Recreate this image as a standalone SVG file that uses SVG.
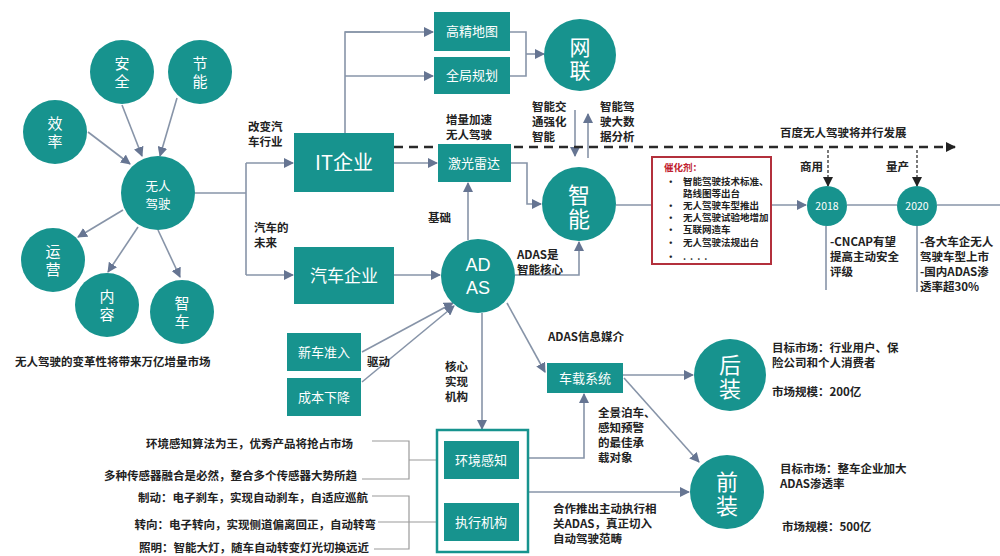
<svg xmlns="http://www.w3.org/2000/svg" width="1000" height="556" viewBox="0 0 1000 556">
<defs>
<marker id="a" viewBox="0 0 10 10" refX="9" refY="5" markerWidth="10" markerHeight="10" markerUnits="userSpaceOnUse" orient="auto"><path d="M0,0 L10,5 L0,10 z" fill="#667592"/></marker>
<marker id="k" viewBox="0 0 10 10" refX="9" refY="5" markerWidth="10" markerHeight="10" markerUnits="userSpaceOnUse" orient="auto"><path d="M0,0 L10,5 L0,10 z" fill="#222"/></marker>
<style>
.c{fill:#17938e}
.r{fill:#17938e}
.w{fill:#fff;font-family:"Noto Sans CJK SC","Noto Sans",sans-serif;text-anchor:middle}
.v{fill:#fff;font-family:"Noto Sans CJK SC",sans-serif;text-anchor:middle;writing-mode:vertical-rl}
.lat{fill:#fff;font-family:"Liberation Sans",sans-serif;text-anchor:middle}
.b{fill:#222;font-family:"Noto Sans CJK SC",sans-serif;font-weight:bold;font-size:11.5px}
.ln{stroke:#8794a8;stroke-width:1.6;fill:none}
.ar{stroke:#8794a8;stroke-width:1.6;fill:none;marker-end:url(#a)}
.gl{stroke:#9a9a9a;stroke-width:1.2;fill:none}
.rb{fill:#222;font-family:"Noto Sans CJK SC",sans-serif;font-weight:bold;font-size:9.5px}
</style>
</defs>
<rect width="1000" height="556" fill="#fff"/>

<g id="connectors">
<line class="ar" x1="88" y1="132" x2="130" y2="164"/>
<line class="ar" x1="122" y1="105" x2="142" y2="156"/>
<line class="ar" x1="177" y1="98" x2="160" y2="156"/>
<line class="ar" x1="123" y1="210" x2="78" y2="237"/>
<line class="ar" x1="138" y1="227" x2="108" y2="272"/>
<line class="ar" x1="158" y1="230" x2="180" y2="277"/>
<polyline class="ln" points="195,193 246,193"/>
<polyline class="ln" points="246,163 246,275"/>
<line class="ar" x1="246" y1="163" x2="293" y2="163"/>
<line class="ar" x1="246" y1="275" x2="293" y2="275"/>
<polyline class="ln" points="345,133 345,32 380,32"/>
<line class="ar" x1="345" y1="32" x2="433" y2="32"/>
<line class="ar" x1="345" y1="76" x2="433" y2="76"/>
<polyline class="ln" points="510,32 526,32 526,76 510,76"/>
<line class="ar" x1="526" y1="54" x2="544" y2="54"/>
<line class="ar" x1="394" y1="163" x2="437" y2="163"/>
<polyline class="ar" points="511,163 527,163 527,204 541,204"/>
<line class="ar" x1="575" y1="110" x2="575" y2="156"/>
<line class="ar" x1="588" y1="158" x2="588" y2="114"/>
<line x1="394" y1="147" x2="955" y2="147" stroke="#2a2a2a" stroke-width="2.3" stroke-dasharray="9 6" marker-end="url(#k)"/>
<line x1="828" y1="150" x2="828" y2="186" stroke="#222" stroke-width="1.2" stroke-dasharray="3 2" marker-end="url(#k)"/>
<line x1="917" y1="150" x2="917" y2="186" stroke="#222" stroke-width="1.2" stroke-dasharray="3 2" marker-end="url(#k)"/>
<line class="ar" x1="394" y1="275" x2="440" y2="275"/>
<line class="ar" x1="468" y1="240" x2="468" y2="183"/>
<polyline class="ar" points="515,275 579,275 579,242"/>
<line class="ar" x1="362" y1="352" x2="453" y2="303"/>
<line class="ar" x1="362" y1="382" x2="454" y2="306"/>
<line class="ar" x1="507" y1="303" x2="545" y2="372"/>
<line class="ar" x1="482" y1="313" x2="482" y2="429"/>
<polyline class="ar" points="528,458 584,458 584,394"/>
<line class="ar" x1="528" y1="492" x2="689" y2="492"/>
<line class="ar" x1="623" y1="375" x2="693" y2="375"/>
<line class="ar" x1="624" y1="378" x2="699" y2="462"/>
<line class="ln" x1="616" y1="205" x2="652" y2="205"/>
<line class="ar" x1="771" y1="205" x2="806" y2="205"/>
<line class="ln" x1="847" y1="205" x2="897" y2="205"/>
<line class="ln" x1="937" y1="205" x2="1000" y2="205"/>
<line class="ln" x1="826" y1="226" x2="826" y2="290"/>
<line class="ln" x1="917" y1="226" x2="917" y2="292"/>
<polyline class="gl" points="372,441 409,441 409,479 362,479"/>
<line class="gl" x1="409" y1="460" x2="444" y2="460"/>
<polyline class="gl" points="372,496 409,496 409,549 374,549"/>
<line class="gl" x1="378" y1="522" x2="444" y2="522"/>
</g>

<g id="n-anquan"><circle class="c" cx="122" cy="72" r="32"/><text class="v" x="122" y="73.5" font-size="15" letter-spacing="3">安全</text></g>
<g id="n-jieneng"><circle class="c" cx="200" cy="72" r="32"/><text class="v" x="200" y="73.5" font-size="15" letter-spacing="3">节能</text></g>
<g id="n-xiaolv"><circle class="c" cx="55" cy="132" r="32"/><text class="v" x="55" y="133.5" font-size="15" letter-spacing="3">效率</text></g>
<g id="n-wurenjiashi"><circle class="c" cx="158" cy="193" r="37"/><text class="w" x="158" y="190.5" font-size="12.5">无人</text><text class="w" x="158" y="209" font-size="12.5">驾驶</text></g>
<g id="n-yunying"><circle class="c" cx="53" cy="260" r="32"/><text class="v" x="53" y="261.5" font-size="15" letter-spacing="3">运营</text></g>
<g id="n-neirong"><circle class="c" cx="107" cy="305" r="32"/><text class="v" x="107" y="306.5" font-size="15" letter-spacing="3">内容</text></g>
<g id="n-zhiche"><circle class="c" cx="182" cy="312" r="32"/><text class="v" x="182" y="313.5" font-size="15" letter-spacing="3">智车</text></g>
<g id="caption"><text class="b" x="15" y="366">无人驾驶的变革性将带来万亿增量市场</text></g>

<g id="n-it"><rect class="r" x="294" y="133" width="100" height="59"/><text class="w" x="344" y="170" font-size="20">IT企业</text></g>
<g id="n-qiche"><rect class="r" x="294" y="247" width="100" height="57"/><text class="w" x="344" y="282" font-size="17">汽车企业</text></g>
<g id="n-gaojing"><rect class="r" x="434" y="12" width="76" height="39"/><text class="w" x="472" y="36" font-size="13">高精地图</text></g>
<g id="n-quanju"><rect class="r" x="434" y="57" width="76" height="37"/><text class="w" x="472" y="80" font-size="13">全局规划</text></g>
<g id="n-jiguang"><rect class="r" x="438" y="144" width="73" height="38"/><text class="w" x="474" y="168" font-size="13">激光雷达</text></g>
<g id="n-wanglian"><circle class="c" cx="580" cy="55" r="36"/><text class="v" x="580" y="60" font-size="21" letter-spacing="2">网联</text></g>
<g id="n-zhineng"><circle class="c" cx="579" cy="204" r="37"/><text class="v" x="579" y="208" font-size="22" letter-spacing="2">智能</text></g>
<g id="n-adas"><circle class="c" cx="478" cy="276" r="37"/><text class="lat" x="478" y="271" font-size="18">AD</text><text class="lat" x="478" y="294" font-size="18">AS</text></g>
<g id="n-xinche"><rect class="r" x="287" y="333" width="74" height="38"/><text class="w" x="324" y="357" font-size="13">新车准入</text></g>
<g id="n-chengben"><rect class="r" x="287" y="378" width="74" height="38"/><text class="w" x="324" y="402" font-size="13">成本下降</text></g>
<g id="n-chezai"><rect class="r" x="547" y="363" width="76" height="30"/><text class="w" x="585" y="383" font-size="13">车载系统</text></g>
<g id="n-container"><rect x="437" y="430" width="91" height="122" fill="#fff" stroke="#17938e" stroke-width="2.5"/></g>
<g id="n-huanjing"><rect class="r" x="444" y="441" width="75" height="38"/><text class="w" x="481" y="465" font-size="13">环境感知</text></g>
<g id="n-zhixing"><rect class="r" x="444" y="503" width="75" height="38"/><text class="w" x="481" y="527" font-size="13">执行机构</text></g>
<g id="n-houzhuang"><circle class="c" cx="730" cy="375" r="36"/><text class="v" x="730" y="378" font-size="22" letter-spacing="2">后装</text></g>
<g id="n-qianzhuang"><circle class="c" cx="727" cy="492" r="37"/><text class="v" x="727" y="495" font-size="22" letter-spacing="2">前装</text></g>
<g id="n-2018"><circle class="c" cx="827" cy="206" r="20"/><text class="w" x="827" y="210" font-size="10.5">2018</text></g>
<g id="n-2020"><circle class="c" cx="917" cy="206" r="20"/><text class="w" x="917" y="210" font-size="10.5">2020</text></g>

<g id="n-catalyst">
<rect x="652" y="157" width="119" height="107" fill="#fff" stroke="#b3303c" stroke-width="2"/>
<text x="664" y="171" font-family="Noto Sans CJK SC,sans-serif" font-weight="bold" font-size="9.5" fill="#c0202e">催化剂：</text>
<text class="rb" x="666" y="185">•</text><text class="rb" x="683" y="185">智能驾驶技术标准、</text>
<text class="rb" x="683" y="197">路线图等出台</text>
<text class="rb" x="666" y="209">•</text><text class="rb" x="683" y="209">无人驾驶车型推出</text>
<text class="rb" x="666" y="221">•</text><text class="rb" x="683" y="221">无人驾驶试验地增加</text>
<text class="rb" x="666" y="233">•</text><text class="rb" x="683" y="233">互联网造车</text>
<text class="rb" x="666" y="246">•</text><text class="rb" x="683" y="246">无人驾驶法规出台</text>
<text class="rb" x="666" y="260">•</text><text class="rb" x="683" y="260" letter-spacing="4">....</text>
</g>

<g id="labels">
<text class="b"><tspan x="248" y="131">改变汽</tspan><tspan x="248" y="146">车行业</tspan></text>
<text class="b"><tspan x="254" y="232">汽车的</tspan><tspan x="254" y="247">未来</tspan></text>
<text class="b"><tspan x="446" y="124">增量加速</tspan><tspan x="446" y="139">无人驾驶</tspan></text>
<text class="b"><tspan x="532" y="111">智能交</tspan><tspan x="532" y="126">通强化</tspan><tspan x="532" y="141">智能</tspan></text>
<text class="b"><tspan x="600" y="111">智能驾</tspan><tspan x="600" y="126">驶大数</tspan><tspan x="600" y="141">据分析</tspan></text>
<text class="b" x="780" y="137">百度无人驾驶将并行发展</text>
<text class="b" x="800" y="171">商用</text>
<text class="b" x="886" y="171">量产</text>
<text class="b" x="428" y="222">基础</text>
<text class="b"><tspan x="517" y="259">ADAS是</tspan><tspan x="517" y="274">智能核心</tspan></text>
<text class="b" x="367" y="366">驱动</text>
<text class="b"><tspan x="445" y="371">核心</tspan><tspan x="445" y="386">实现</tspan><tspan x="445" y="401">机构</tspan></text>
<text class="b" x="548" y="341">ADAS信息媒介</text>
<text class="b"><tspan x="598" y="417">全景泊车、</tspan><tspan x="598" y="432">感知预警</tspan><tspan x="598" y="447">的最佳承</tspan><tspan x="598" y="462">载对象</tspan></text>
<text class="b"><tspan x="553" y="513">合作推出主动执行相</tspan><tspan x="553" y="528">关ADAS，真正切入</tspan><tspan x="553" y="543">自动驾驶范畴</tspan></text>
<text class="b"><tspan x="772" y="352">目标市场：行业用户、保</tspan><tspan x="772" y="367">险公司和个人消费者</tspan></text>
<text class="b" x="772" y="396">市场规模：200亿</text>
<text class="b"><tspan x="780" y="473">目标市场：整车企业加大</tspan><tspan x="780" y="488">ADAS渗透率</tspan></text>
<text class="b" x="782" y="531">市场规模：500亿</text>
<text class="b"><tspan x="830" y="246">-CNCAP有望</tspan><tspan x="830" y="261">提高主动安全</tspan><tspan x="830" y="276">评级</tspan></text>
<text class="b"><tspan x="920" y="246">-各大车企无人</tspan><tspan x="920" y="261">驾驶车型上市</tspan><tspan x="920" y="276">-国内ADAS渗</tspan><tspan x="920" y="291">透率超30%</tspan></text>
<text class="b" text-anchor="end" x="353" y="448">环境感知算法为王，优秀产品将抢占市场</text>
<text class="b" text-anchor="end" x="357" y="480">多种传感器融合是必然，整合多个传感器大势所趋</text>
<text class="b" text-anchor="end" x="368" y="502">制动：电子刹车，实现自动刹车，自适应巡航</text>
<text class="b" text-anchor="end" x="376" y="529">转向：电子转向，实现侧道偏离回正，自动转弯</text>
<text class="b" text-anchor="end" x="369" y="552">照明：智能大灯，随车自动转变灯光切换远近</text>
</g>
</svg>
